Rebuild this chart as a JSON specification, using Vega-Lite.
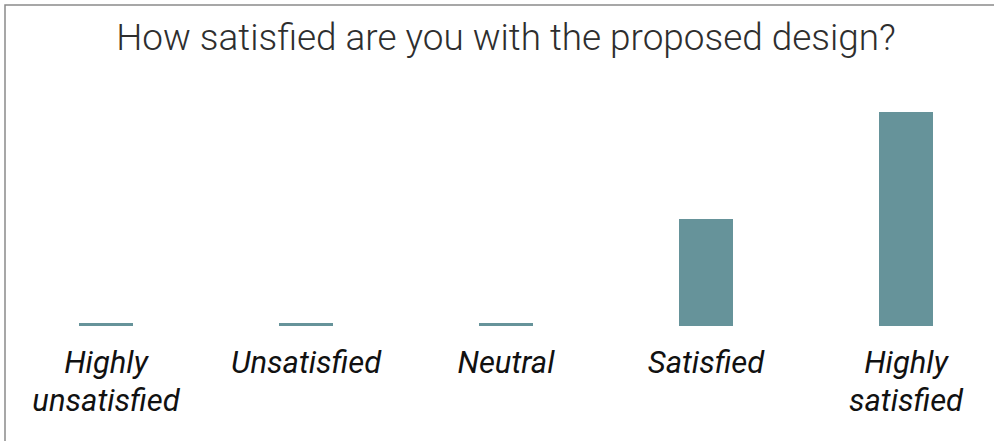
{
  "$schema": "https://vega.github.io/schema/vega-lite/v6.json",
  "autosize": "none",
  "padding": {"left": 5, "top": 5, "right": 0, "bottom": 0},
  "width": 1002,
  "height": 440,
  "title": {
    "text": "How satisfied are you with the proposed design?",
    "anchor": "middle",
    "frame": "group",
    "offset": -82,
    "baseline": "alphabetic",
    "font": "Roboto",
    "fontSize": 36.9,
    "fontWeight": 300,
    "color": "#2e2e2e"
  },
  "data": {
    "values": [
      {"response": "Highly unsatisfied", "count": 0},
      {"response": "Unsatisfied", "count": 0},
      {"response": "Neutral", "count": 0},
      {"response": "Satisfied", "count": 1},
      {"response": "Highly satisfied", "count": 2}
    ]
  },
  "encoding": {
    "x": {
      "field": "response",
      "type": "nominal",
      "sort": null,
      "scale": {"paddingInner": 0.73, "paddingOuter": 0.37},
      "axis": {
        "title": null,
        "orient": "bottom",
        "offset": -119,
        "domain": false,
        "ticks": false,
        "grid": false,
        "labelAngle": 0,
        "labelExpr": "split(datum.label, ' ')",
        "labelFont": "Roboto",
        "labelFontSize": 31,
        "labelFontStyle": "italic",
        "labelColor": "#111111",
        "labelLineHeight": 38,
        "labelBaseline": "top",
        "labelPadding": 22,
        "labelLimit": 400
      }
    },
    "y": {
      "field": "count",
      "type": "quantitative",
      "scale": {"domain": [0, 3], "range": [321, 0], "nice": false},
      "axis": null
    }
  },
  "layer": [
    {
      "mark": {"type": "tick", "size": 54, "thickness": 3, "yOffset": -1.5, "color": "#66939a", "opacity": 1},
      "encoding": {"y": {"datum": 0, "type": "quantitative"}}
    },
    {"mark": {"type": "bar", "color": "#66939a"}}
  ],
  "config": {
    "view": {"stroke": "#8a8a8a", "strokeWidth": 1.5},
    "background": "white"
  }
}
